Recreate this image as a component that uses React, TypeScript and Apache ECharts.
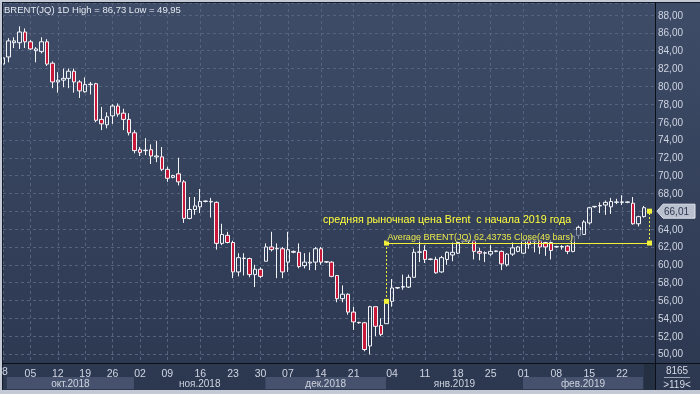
import React, { useEffect, useRef } from "react";
import * as echarts from "echarts";

// ---- data ----
const opens = [
  82.5, 83.3, 84.9, 84.9, 86.1, 85.0, 84.0, 83.9, 85.0, 82.6,
  80.5, 80.7, 80.9, 81.7, 80.5, 79.4, 80.2, 80.3, 76.3, 75.7,
  76.7, 77.8, 77.0, 76.3, 74.8, 72.9, 72.8, 72.9, 72.1, 72.1,
  70.7, 69.8, 70.2, 69.3, 65.2, 66.2, 66.5, 67.1, 67.1, 67.0,
  62.4, 63.3, 62.5, 59.2, 60.7, 60.7, 58.9, 59.5, 60.4, 62.0,
  61.8, 61.8, 60.3, 61.5, 61.4, 59.9, 60.2, 60.3, 61.8, 60.3,
  60.3, 58.8, 56.2, 56.7, 54.7, 53.55, 53.5, 50.9, 55.3, 53.2,
  53.4, 55.9, 57.4, 57.5, 57.5, 58.6, 61.4, 61.6, 60.6, 60.6,
  59.2, 60.6, 61.1, 61.3, 62.6, 62.7, 62.7, 61.5, 61.3, 61.2,
  61.5, 61.5, 60.0, 61.2, 61.5, 61.3, 62.7, 62.6, 62.7, 62.5,
  62.5, 62.0, 62.0, 62.1, 61.5, 63.3, 63.4, 64.7, 66.5, 66.6,
  66.7, 66.5, 67.0, 67.0, 67.0, 66.9, 64.6, 65.4, 66.0,
];
const closes = [
  83.2, 85.1, 85.1, 86.1, 85.0, 84.2, 84.2, 85.0, 82.5, 80.5,
  80.7, 80.9, 81.7, 80.5, 79.5, 80.2, 80.25, 76.2, 75.8, 76.6,
  77.8, 76.9, 76.3, 74.8, 72.8, 72.6, 72.85, 72.2, 72.2, 70.7,
  69.7, 70.0, 69.3, 65.2, 66.2, 66.6, 67.1, 67.15, 67.05, 62.4,
  63.4, 62.5, 59.2, 60.8, 60.75, 58.9, 59.5, 58.7, 62.0, 61.7,
  61.85, 59.2, 61.7, 61.4, 59.8, 60.3, 60.3, 61.8, 60.3, 60.35,
  58.7, 56.2, 56.7, 54.7, 53.6, 53.5, 50.5, 55.3, 53.1, 52.2,
  55.9, 57.4, 57.45, 57.55, 58.6, 61.4, 61.45, 60.6, 60.65, 59.1,
  60.8, 61.4, 61.4, 62.5, 62.65, 62.75, 61.5, 61.3, 61.35, 61.5,
  61.55, 60.1, 61.2, 61.9, 62.0, 62.7, 62.3, 62.65, 62.0, 62.0,
  61.6, 62.05, 62.05, 61.5, 63.2, 64.2, 64.8, 66.4, 66.55, 66.65,
  67.0, 67.1, 67.05, 67.05, 67.05, 64.6, 65.4, 66.4, 66.01,
];
const lows = [
  82.3, 82.7, 84.3, 84.2, 84.3, 84.1, 82.7, 83.7, 82.3, 79.8,
  79.3, 79.9, 79.8, 79.3, 78.7, 79.3, 79.1, 76.0, 75.1, 75.3,
  75.8, 76.6, 75.1, 74.5, 72.5, 72.2, 72.3, 71.3, 71.5, 70.5,
  69.3, 69.7, 68.9, 64.7, 65.1, 65.6, 65.8, 67.0, 65.3, 61.7,
  62.2, 62.4, 58.5, 58.7, 58.8, 58.6, 57.5, 58.5, 60.4, 61.5,
  58.5, 58.5, 59.2, 61.3, 59.6, 59.6, 59.4, 59.4, 60.0, 60.2,
  58.6, 55.8, 55.8, 54.4, 52.7, 53.4, 50.3, 49.95, 52.0, 52.0,
  53.4, 55.3, 57.3, 57.2, 57.4, 58.6, 60.3, 60.2, 60.5, 59.0,
  59.1, 60.0, 60.4, 61.2, 62.5, 62.4, 60.6, 60.5, 60.3, 61.0,
  61.4, 59.4, 59.8, 61.0, 61.4, 61.2, 61.8, 61.4, 61.2, 61.0,
  60.6, 61.9, 61.7, 61.2, 61.4, 62.9, 63.4, 64.5, 66.4, 65.8,
  65.6, 65.7, 66.8, 66.7, 66.9, 64.5, 64.3, 65.3, 65.9,
];
const highs = [
  83.4, 85.4, 85.5, 86.73, 86.5, 85.2, 84.4, 85.5, 85.3, 82.8,
  81.6, 82.0, 82.0, 82.0, 80.7, 81.0, 80.5, 80.4, 77.7, 77.1,
  78.0, 78.1, 77.5, 77.0, 75.1, 73.2, 74.2, 73.5, 73.9, 73.2,
  71.0, 70.1, 72.0, 69.5, 67.6, 67.6, 68.5, 67.2, 67.5, 67.1,
  64.6, 63.7, 62.7, 61.3, 61.3, 60.8, 60.0, 59.7, 62.4, 63.7,
  62.4, 62.0, 63.7, 61.6, 62.4, 61.3, 61.4, 62.0, 62.0, 60.4,
  60.4, 58.8, 57.7, 56.8, 55.3, 53.6, 53.6, 55.4, 55.3, 54.0,
  56.0, 58.4, 57.5, 58.9, 58.9, 61.8, 63.0, 62.2, 60.7, 60.9,
  61.0, 61.5, 62.5, 62.6, 62.7, 62.8, 62.8, 61.9, 61.5, 62.2,
  61.6, 61.6, 61.3, 62.5, 62.1, 62.8, 63.0, 62.8, 62.8, 62.6,
  62.8, 62.1, 62.2, 62.2, 63.3, 64.4, 65.0, 66.5, 66.6, 67.0,
  67.2, 67.5, 67.4, 67.8, 67.1, 67.6, 65.5, 66.6, 66.1,
];

const tickDays = ["28", "05", "12", "19", "26", "02", "09", "16", "23", "30", "07", "14", "21", "04", "11", "18", "25", "01", "08", "15", "22"];
const tickBars = [0, 5, 10, 15, 20, 25, 30, 36, 42, 47, 52, 58, 64, 71, 77, 83, 89, 95, 101, 107, 113];

const months = ["окт.2018", "ноя.2018", "дек.2018", "янв.2019", "фев.2019"];
const monthEdges = [0.7, 23.9, 47.9, 69.9, 94.9, 116.8];
const monthShaded = [true, false, true, false, true];

const titleText = "BRENT(JQ) 1D High = 86,73 Low = 49,95";
const noteText = "средняя рыночная цена Brent  с начала 2019 года";
const avgText = "Average BRENT(JQ) 62,43735 Close(49 bars)";
const avgValue = 62.43735;
const avgStart = 70;
const avgEnd = 118;
const lastPriceText = "66,01";
const lastPrice = 66.01;
const hiddenYLabel = 66; // covered by the price tag in the reference
const cornerTop = "8165";
const cornerBottom = ">119<";

const Y_MIN = 48.99;
const Y_MAX = 89.35;

export default function App() {
  const ref = useRef<HTMLDivElement>(null);

  useEffect(() => {
    const el = ref.current!;
    const chart = echarts.init(el, null, { renderer: "svg" });
    const font = '"Liberation Sans", Arial, sans-serif';
    const categories = closes.map((_, i) => "b" + i).concat(["b" + closes.length]);
    const labelAt: Record<number, string> = {};
    tickBars.forEach((b, k) => (labelAt[b] = tickDays[k]));
    const isTick = (i: number) => labelAt[i] !== undefined;
    const candles = opens.map((o, i) => [o, closes[i], lows[i], highs[i]]);
    const yellow = "#f2f23a";

    chart.setOption({
      animation: false,
      grid: { left: 3, right: 45, top: 3, bottom: 31 },
      xAxis: {
        type: "category",
        data: categories,
        boundaryGap: false,
        axisLine: { show: false },
        axisTick: { show: false },
        axisLabel: {
          interval: (i: number) => isTick(i) && i > 0,
          formatter: (_v: string, i: number) => (i > 0 ? labelAt[i] ?? "" : ""),
          color: "#cfd5e2",
          fontSize: 10.5,
          fontFamily: font,
          margin: 4,
        },
        splitLine: {
          show: true,
          interval: (i: number) => isTick(i),
          lineStyle: { color: "#56637e", type: [3, 3], width: 1 },
        },
      },
      yAxis: {
        type: "value",
        position: "right",
        min: Y_MIN,
        max: Y_MAX,
        splitNumber: 20,
        axisLine: { show: false },
        axisTick: { show: false },
        axisLabel: {
          showMinLabel: false,
          showMaxLabel: false,
          formatter: (v: number) =>
            Math.abs(v % 2) < 1e-6 && Math.abs(v - hiddenYLabel) > 1e-6 ? v.toFixed(2).replace(".", ",") : "",
          color: "#cfd5e2",
          fontSize: 10,
          fontFamily: font,
          margin: 3,
        },
        splitLine: { show: true, lineStyle: { color: "#56637e", type: [3, 3], width: 1 } },
      },
      series: [
        {
          type: "candlestick",
          data: candles,
          barWidth: 4,
          clip: true,
          itemStyle: {
            color: "rgba(0,0,0,0)",
            color0: "#c8183a",
            borderColor: "#f2f4f8",
            borderColor0: "#f2f4f8",
            borderWidth: 1,
          },
          markLine: {
            silent: true,
            symbol: ["none", "none"],
            label: { show: false },
            data: [
              [
                { coord: [avgStart, avgValue], lineStyle: { color: yellow, type: "solid", width: 1 } },
                { coord: [avgEnd, avgValue] },
              ],
              [
                { coord: [avgStart, avgValue], lineStyle: { color: yellow, type: [2, 2], width: 1 } },
                { coord: [avgStart, closes[avgStart]] },
              ],
              [
                { coord: [avgEnd, avgValue], lineStyle: { color: yellow, type: [2, 2], width: 1 } },
                { coord: [avgEnd, closes[avgEnd]] },
              ],
            ],
          },
          markPoint: {
            silent: true,
            symbol: "rect",
            symbolSize: 5,
            itemStyle: { color: yellow },
            label: { show: false },
            data: [
              { coord: [avgStart, avgValue] },
              { coord: [avgEnd, avgValue] },
              { coord: [avgStart, closes[avgStart]] },
              { coord: [avgEnd, lastPrice] },
            ],
          },
        },
      ],
    });

    const p0 = chart.convertToPixel({ gridIndex: 0 }, [0, avgValue]) as number[];
    const p1 = chart.convertToPixel({ gridIndex: 0 }, [1, avgValue]) as number[];
    const step = p1[0] - p0[0];
    const xOf = (i: number) => p0[0] + step * i;
    const yAvg = p0[1];
    const yLast = chart.convertToPixel({ yAxisIndex: 0 }, lastPrice) as number;
    const xAvg0 = xOf(avgStart);

    const graphics: any[] = [
      { type: "rect", z: -20, silent: true, shape: { x: 0, y: 0, width: 700, height: 394 }, style: { fill: "#c3c9d5" } },
      {
        type: "rect", z: -19, silent: true,
        shape: { x: 2, y: 2, width: 698, height: 388 },
        style: {
          fill: new echarts.graphic.LinearGradient(0, 0, 0, 1, [
            { offset: 0, color: "#3e4c67" },
            { offset: 1, color: "#2c3750" },
          ]),
        },
      },
      { type: "line", z: 5, silent: true, shape: { x1: 2, y1: 2.5, x2: 700, y2: 2.5 }, style: { stroke: "#121a28", lineWidth: 1 } },
      { type: "line", z: 5, silent: true, shape: { x1: 2.5, y1: 2, x2: 2.5, y2: 390 }, style: { stroke: "#121a28", lineWidth: 1 } },
      { type: "line", z: 5, silent: true, shape: { x1: 2, y1: 363.5, x2: 700, y2: 363.5 }, style: { stroke: "#0b0f18", lineWidth: 1 } },
      { type: "line", z: 5, silent: true, shape: { x1: 655.5, y1: 2, x2: 655.5, y2: 390 }, style: { stroke: "#0b0f18", lineWidth: 1 } },
      { type: "rect", z: 4, silent: true, shape: { x: 644, y: 364, width: 11, height: 26 }, style: { fill: "#263043" } },
      {
        type: "text", z: 6, silent: true, x: 4, y: 9,
        style: { text: titleText, fill: "#e4e8f0", font: `9.5px ${font}`, verticalAlign: "middle" },
      },
      {
        type: "text", z: 6, silent: true, x: xOf(0) - 1, y: 371,
        style: { text: tickDays[0], fill: "#cfd5e2", font: `10.5px ${font}`, align: "center", verticalAlign: "middle" },
      },
      {
        type: "text", z: 6, silent: true, x: 677, y: 370,
        style: { text: cornerTop, fill: "#d6dbe6", font: `10px ${font}`, align: "center", verticalAlign: "middle" },
      },
      { type: "line", z: 6, silent: true, shape: { x1: 664, y1: 377.5, x2: 690, y2: 377.5 }, style: { stroke: "#9aa3b6", lineWidth: 1 } },
      {
        type: "text", z: 6, silent: true, x: 677, y: 384,
        style: { text: cornerBottom, fill: "#d6dbe6", font: `10px ${font}`, align: "center", verticalAlign: "middle" },
      },
      // translucent box behind the average text
      { type: "rect", z: 8, silent: true, shape: { x: xAvg0, y: yAvg - 13, width: 196, height: 12 }, style: { fill: "rgba(58,70,96,0.6)" } },
      {
        type: "text", z: 9, silent: true, x: xAvg0 + 1, y: yAvg - 6.5,
        style: { text: avgText, fill: "#e8e84a", font: `9px ${font}`, verticalAlign: "middle" },
      },
      {
        type: "text", z: 9, silent: true, x: 323, y: 219,
        style: { text: noteText, fill: "#ffff3c", font: `10.7px ${font}`, verticalAlign: "middle" },
      },
      // current price tag
      {
        type: "polygon", z: 9, silent: true,
        shape: { points: [[657, yLast], [663, yLast - 7], [695, yLast - 7], [695, yLast + 7], [663, yLast + 7]] },
        style: { fill: "#b9c0ce", stroke: "#e2e6ee", lineWidth: 1 },
      },
      {
        type: "text", z: 10, silent: true, x: 664, y: yLast,
        style: { text: lastPriceText, fill: "#2e3850", font: `10px ${font}`, verticalAlign: "middle" },
      },
    ];

    months.forEach((m, k) => {
      const xa = xOf(monthEdges[k]);
      const xb = xOf(monthEdges[k + 1]);
      if (monthShaded[k]) {
        graphics.push({ type: "rect", z: 3, silent: true, shape: { x: xa, y: 377, width: xb - xa, height: 12 }, style: { fill: "#46526d" } });
      }
      graphics.push({
        type: "text", z: 6, silent: true, x: (xa + xb) / 2, y: 383.5,
        style: { text: m, fill: "#cdd3df", font: `10px ${font}`, align: "center", verticalAlign: "middle" },
      });
    });

    chart.setOption({ graphic: { elements: graphics } });

    return () => chart.dispose();
  }, []);

  return <div ref={ref} style={{ position: "fixed", left: 0, top: 0, width: 700, height: 394 }} />;
}
